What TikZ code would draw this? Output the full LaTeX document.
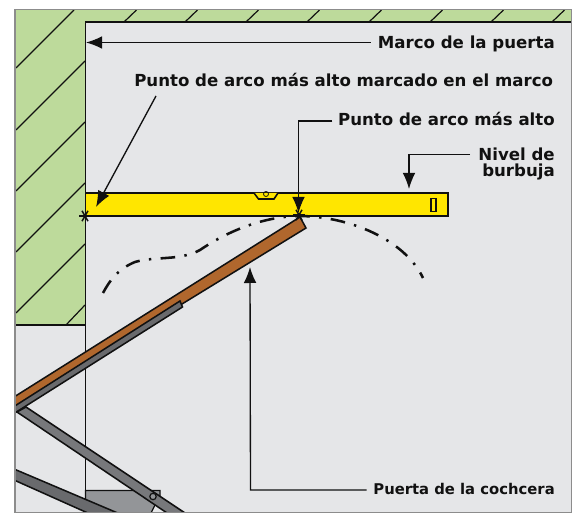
\documentclass[tikz,border=0pt]{standalone}
\usepackage{fontspec}
\setmainfont{DejaVu Sans}
\usetikzlibrary{arrows.meta}
\definecolor{wallg}{HTML}{BDDA9B}
\definecolor{bgg}{HTML}{E5E6E8}
\definecolor{lvl}{HTML}{FFE600}
\definecolor{brn}{HTML}{B0672D}
\definecolor{steel}{HTML}{696A6D}
\definecolor{steelb}{HTML}{77787B}
\definecolor{brk}{HTML}{939598}
\definecolor{ink}{HTML}{111111}
\tikzset{
  lab/.style={font=\bfseries\fontsize{12.45}{14}\selectfont,text=ink,inner sep=0pt},
  labs/.style={font=\bfseries\fontsize{11.1}{13}\selectfont,text=ink,inner sep=0pt},
  hat/.style={draw=ink,line width=.9pt},
  edge/.style={draw=ink,line width=1.15pt},
  lead/.style={draw=ink,line width=1pt,-{Latex[length=12pt,width=9.5pt]}},
  star/.style={draw=ink,line width=1.1pt},
  frameline/.style={draw=black!45,line width=1.1pt},
}
\begin{document}
\begin{tikzpicture}[x=.75pt,y=-.75pt]
\useasboundingbox (0,0) rectangle (572,513);
\fill[bgg] (15,9.5) rectangle (572,512.5);
\fill[wallg] (15,9.5) -- (572,9.5) -- (572,22) -- (85.5,22) -- (85.5,325) -- (15,325) -- cycle;
% hatching
\foreach \y in {130,191,252,313}{\draw[hat] (16,\y) -- (85,\y-69);}
\draw[hat] (16,68) -- (74,10);
\draw[hat] (66,325) -- (85,305);
\foreach \x in {124,185,246,307,369,430,491,552}{\draw[hat] (\x,22) -- (\x+12.5,10);}
\begin{scope}
\clip (15,9.5) rectangle (572,512.5);
% wall edges
\draw[edge] (571.5,22) -- (85.5,22) -- (85.5,512);
\draw[edge] (15,325) -- (85.5,325);
% level
\draw[edge,fill=lvl] (85.5,193) rectangle (448,216);
\draw[edge,fill=lvl] (254,193) -- (258.5,199) -- (274,199) -- (278,193);
\draw[ink,line width=.6pt] (266,194) circle (2.5);
\draw[ink,line width=1pt] (431,198.5) rectangle (436,211.5);
\draw[ink,line width=.7pt,dash pattern=on 3pt off 2pt] (85.5,216) -- (300,216);
% arc
\draw[ink,line width=1.9pt,dash pattern=on 11pt off 7pt on 1.8pt off 7pt] (103,293) .. controls (110,280) and (118,269) .. (135,262) .. controls (155,256) and (180,261) .. (200,250) .. controls (225,233) and (260,217) .. (298,216) .. controls (350,216) and (405,240) .. (423,278);
% door
\draw[edge,fill=brn] (14,397) -- (300,217) -- (306,228) -- (14,407) -- cycle;
\draw[edge,fill=steel] (14,406.5) -- (180,301) -- (182.5,307) -- (14,413.5) -- cycle;
% bracket
\draw[edge,fill=brk,line width=.9pt] (85.5,490.5) -- (160,490.5) -- (160,496) -- (155,505) -- (150.5,514) -- (85.5,514) -- cycle;
% arm 1
\draw[edge,fill=steelb] (26,407) -- (188,515) -- (170,515) -- (17,412) -- cycle;
\draw[ink,line width=.9pt,fill=brk] (153,496.5) circle (3.2);
% arm 2
\draw[edge,fill=steel] (14,469) -- (120,514) -- (90,514) -- (14,480) -- cycle;
\end{scope}
\draw[frameline] (15,512.5) -- (15,9.5) -- (571.7,9.5) -- (571.7,512.5) -- cycle;
% stars
\foreach \c in {(85,216),(299,215)}{
 \foreach \a in {0,60,120}{\draw[star] \c ++(\a:6) -- ++(\a+180:12);}
}
% labels
\node[lab,anchor=base east] (marco) at (555,48.5) {Marco de la puerta};
\node[lab,anchor=base west] (alto1) at (134,87) {Punto de arco más alto marcado en el marco};
\node[lab,anchor=base east] (alto2) at (555,126) {Punto de arco más alto};
\node[lab,anchor=base east] (nivel) at (555,160.5) {Nivel de};
\node[lab,anchor=base east] (burb) at (555,177) {burbuja};
\node[labs,anchor=base east] (cochera) at (555,495) {Puerta de la cochcera};
% free ends
\coordinate (m) at (86,42.5);
\coordinate (a0) at (156,96);
\coordinate (a1) at (96,207);
\coordinate (a2) at (298.5,213);
\coordinate (n1) at (409,189);
\coordinate (p1) at (250,267);
% leaders
\draw[lead] ([xshift=-5pt]marco.west |- m) -- (m);
\draw[lead] (a0) -- (a1);
\draw[lead] ([xshift=-4pt]alto2.west |- 0,121) -- (298.5,121) -- (a2);
\draw[lead] ([xshift=-6pt]nivel.west |- 0,154.5) -- (409,154.5) -- (n1);
\draw[lead] ([xshift=-5pt]cochera.west |- 0,490) -- (250.5,490) -- (p1);
\end{tikzpicture}
\end{document}
